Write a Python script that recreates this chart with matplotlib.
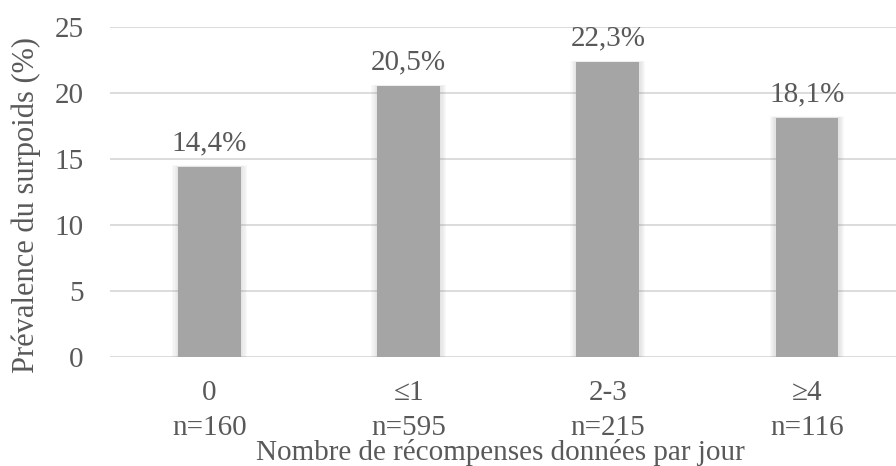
import matplotlib
matplotlib.use('Agg')
import matplotlib.pyplot as plt
import numpy as np

categories = ['0', '≤1', '2-3', '≥4']
counts = ['n=160', 'n=595', 'n=215', 'n=116']
prevalence = [14.4, 20.5, 22.3, 18.1]
value_labels = ['14,4%', '20,5%', '22,3%', '18,1%']

txt = '#595959'
fs = 21
plt.rcParams['font.family'] = ['Liberation Serif', 'DejaVu Serif']

fig = plt.figure(figsize=(8.96, 4.66), dpi=100)
ax = fig.add_axes([0.1228, 0.234, 0.8772, 0.709])

x = np.arange(len(categories))
w = 0.316

# soft shadow round the bars
for k in range(1, 6):
    ax.bar(x, np.array(prevalence) + 0.02 * k, width=w + 0.012 * k,
           color='#808080', alpha=0.045, zorder=2, linewidth=0)
ax.bar(x, prevalence, width=w, color='#A5A5A5', zorder=3, linewidth=0)

for xi, v, lab in zip(x, prevalence, value_labels):
    ax.annotate(lab, (xi, v), xytext=(0, 12), textcoords='offset points',
                ha='center', va='baseline', fontsize=fs, color=txt)

ax.set_ylim(0, 25)
ax.set_xlim(-0.5, 3.447)
ax.set_yticks([0, 5, 10, 15, 20, 25])
ax.yaxis.grid(True, color='#D9D9D9', linewidth=1.3, zorder=0)
ax.set_axisbelow(True)
for s in ax.spines.values():
    s.set_visible(False)
ax.tick_params(axis='both', length=0, labelsize=fs, labelcolor=txt)
ax.tick_params(axis='y', pad=19)
ax.tick_params(axis='x', pad=31)

ax.set_xticks(x)
ax.set_xticklabels(categories, va='baseline')
# second row of the category labels: group sizes
for xi, n in zip(x, counts):
    ax.text(xi, -0.236, n, transform=ax.get_xaxis_transform(),
            ha='center', va='baseline', fontsize=fs, color=txt)

ax.set_xlabel('Nombre de récompenses données par jour', fontsize=21,
              color=txt, va='baseline')
ax.xaxis.set_label_coords(0.497, -0.312)
ax.set_ylabel('Prévalence du surpoids (%)', fontsize=22, color=txt,
              va='center')
ax.yaxis.set_label_coords(-0.107, 0.46)

fig.savefig('out.png', dpi=100)
